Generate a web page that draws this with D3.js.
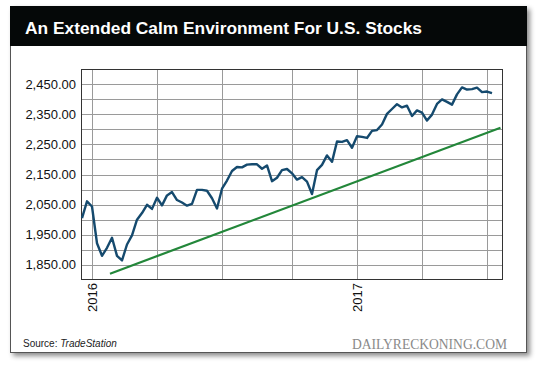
<!DOCTYPE html>
<html><head><meta charset="utf-8">
<script src="https://cdn.jsdelivr.net/npm/d3@7"></script>
<style>html,body{margin:0;padding:0;background:#fff;}svg{display:block;}</style>
</head><body>
<svg id="c" width="540" height="365"></svg>
<script>
// Weekly closes, Dec 18 2015 .. Jul 2017 (one point per week)
const values = [2005.55,2060.99,2043.94,1922.03,1880.33,1906.90,1940.24,1880.05,1864.78,1917.78,
1948.05,1999.99,2022.19,2049.58,2035.94,2072.78,2047.60,2080.73,2091.58,2065.30,
2057.14,2046.61,2052.32,2099.06,2099.13,2096.07,2071.22,2037.41,2102.95,2129.90,
2161.74,2175.03,2173.60,2182.87,2184.05,2183.87,2169.04,2179.98,2127.81,2139.16,
2164.69,2168.27,2153.74,2132.98,2141.16,2126.41,2085.18,2164.45,2181.90,2213.35,
2191.95,2259.53,2258.07,2263.79,2238.83,2276.98,2274.64,2271.31,2294.69,2297.42,
2316.10,2351.16,2367.34,2383.12,2372.60,2378.25,2343.98,2362.72,2355.54,2328.95,
2348.69,2384.20,2399.29,2390.90,2381.73,2415.82,2439.07,2431.77,2433.15,2438.30,
2423.41,2425.18,2420.00];
// trend line endpoints: [week index, value]
const trendIdx = [5.6, 83.7];
const trendVal = [1821, 2305];
// vertical gridlines (week index) and their labels
const xGridIdx = [2, 15, 28, 42, 55, 68, 81];
const xLabels = ["2016", "", "", "", "2017", "", ""];
const yLabelTicks = [1850, 1950, 2050, 2150, 2250, 2350, 2450];
const yGridTicks = [1850,1900,1950,2000,2050,2100,2150,2200,2250,2300,2350,2400,2450];
const title = "An Extended Calm Environment For U.S. Stocks";

const svg = d3.select("#c");
const defs = svg.append("defs");
const f = defs.append("filter").attr("id","sh").attr("x","-5%").attr("y","-5%").attr("width","115%").attr("height","115%");
f.append("feDropShadow").attr("dx",3).attr("dy",3).attr("stdDeviation",2.5).attr("flood-color","#000").attr("flood-opacity",0.45);

// frame
svg.append("rect").attr("x",10.5).attr("y",6.5).attr("width",516).attr("height",346)
  .attr("fill","#fff").attr("stroke","#555").attr("stroke-width",1).attr("filter","url(#sh)");
svg.append("rect").attr("x",10).attr("y",6).attr("width",517).attr("height",40).attr("fill","#050808");
svg.append("text").attr("x",25).attr("y",34).attr("fill","#fff")
  .attr("font-family","Liberation Sans, Arial, sans-serif").attr("font-weight","bold")
  .attr("font-size",17).attr("textLength",397).attr("lengthAdjust","spacingAndGlyphs").text(title);

const L=81, R=503, T=69, B=280;
const x = d3.scaleLinear().domain([0, values.length-1]).range([82, 492]);
const y = d3.scaleLinear().domain([1800, 2500]).range([B, T]);

const g = svg.append("g");
// horizontal grid
g.selectAll("line.hg").data(yGridTicks).enter().append("line")
  .attr("x1",L).attr("x2",R).attr("y1",d=>Math.round(y(d))+0.5).attr("y2",d=>Math.round(y(d))+0.5)
  .attr("stroke","#9a9a9a").attr("stroke-width",1);
// vertical grid
g.selectAll("line.vg").data(xGridIdx).enter().append("line")
  .attr("y1",T).attr("y2",B).attr("x1",d=>Math.round(x(d))+0.5).attr("x2",d=>Math.round(x(d))+0.5)
  .attr("stroke","#9a9a9a").attr("stroke-width",1);
// plot border
g.append("rect").attr("x",L+0.5).attr("y",T+0.5).attr("width",R-L-1).attr("height",B-T-1)
  .attr("fill","none").attr("stroke","#333").attr("stroke-width",1);

// y labels
g.selectAll("text.yl").data(yLabelTicks).enter().append("text")
  .attr("x",76).attr("y",d=>y(d)+4.5).attr("text-anchor","end")
  .attr("font-family","Liberation Sans, Arial, sans-serif").attr("font-size",13).attr("fill","#111")
  .text(d=>d3.format(",.2f")(d));
// x labels (rotated)
g.selectAll("text.xl").data(xGridIdx.map((d,i)=>({i:d,t:xLabels[i]})).filter(d=>d.t)).enter().append("text")
  .attr("transform",d=>`translate(${Math.round(x(d.i))+5},283) rotate(-90)`)
  .attr("text-anchor","end")
  .attr("font-family","Liberation Sans, Arial, sans-serif").attr("font-size",13).attr("fill","#111")
  .text(d=>d.t);

// trend line
g.append("path").datum(trendIdx.map((d,i)=>[d,trendVal[i]]))
  .attr("d", d3.line().x(d=>x(d[0])).y(d=>y(d[1])))
  .attr("fill","none").attr("stroke","#23873a").attr("stroke-width",2.2);
// price line
g.append("path").datum(values)
  .attr("d", d3.line().x((d,i)=>x(i)).y(d=>y(d)))
  .attr("fill","none").attr("stroke","#154a6e").attr("stroke-width",2.4).attr("stroke-linejoin","round");

// footer
const src = svg.append("text").attr("x",23).attr("y",347)
  .attr("font-family","Liberation Sans, Arial, sans-serif").attr("font-size",10).attr("fill","#222");
src.append("tspan").text("Source: ");
src.append("tspan").attr("font-style","italic").text("TradeStation");
svg.append("text").attr("x",352).attr("y",349)
  .attr("font-family","Liberation Serif, Times New Roman, serif").attr("font-size",14).attr("fill","#8a8a8a")
  .attr("textLength",155).attr("lengthAdjust","spacingAndGlyphs").text("DAILYRECKONING.COM");
</script>
</body></html>
